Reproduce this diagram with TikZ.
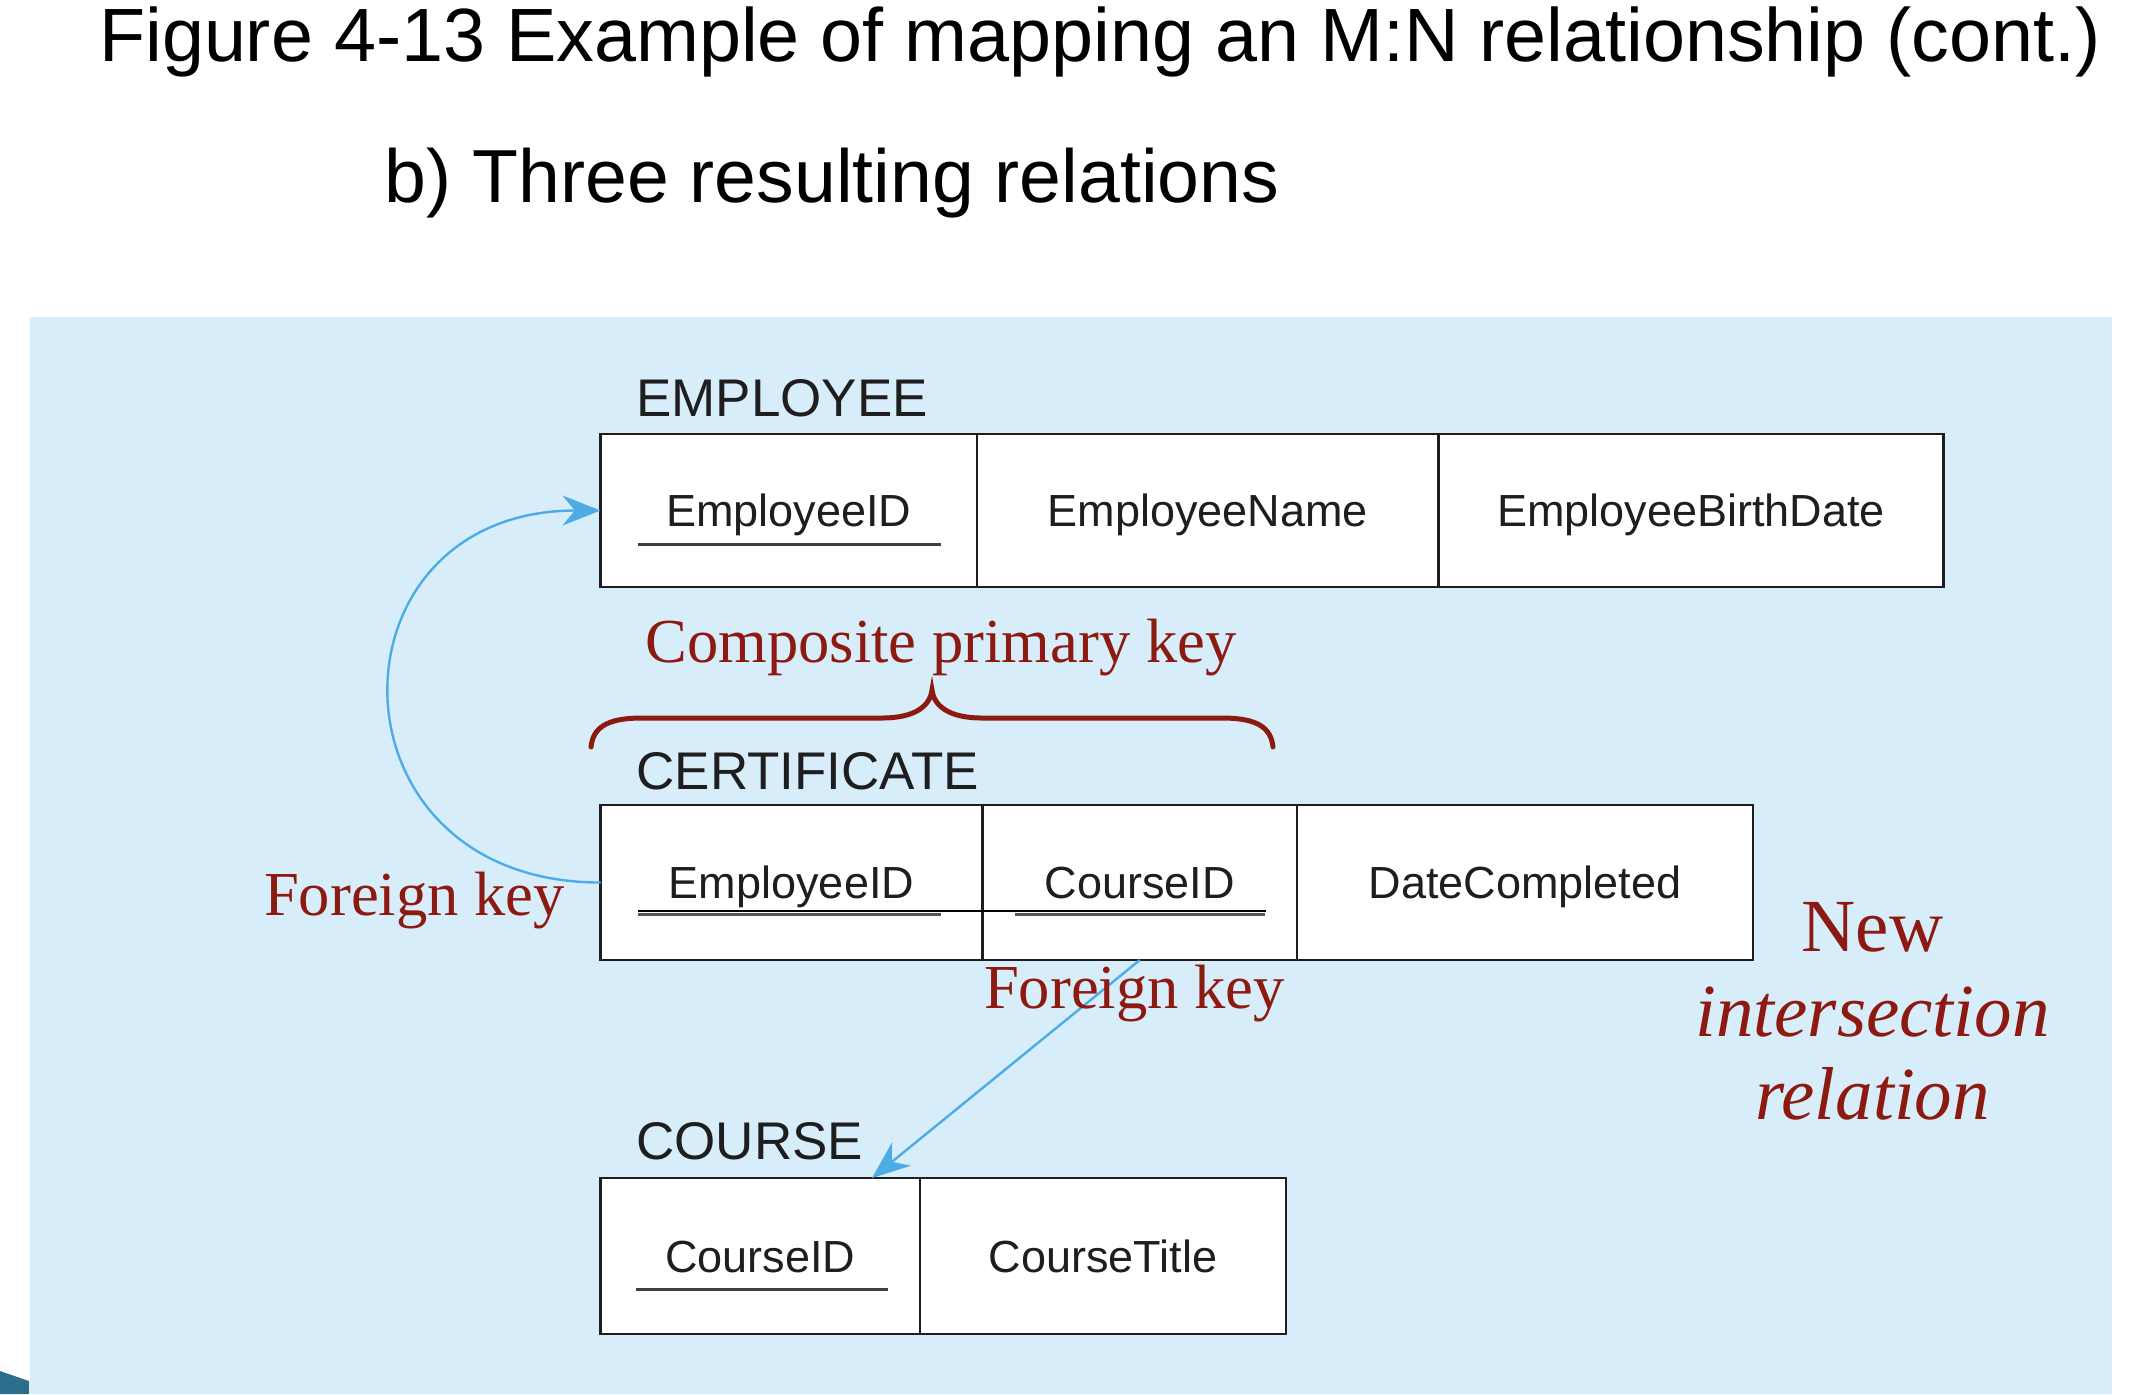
\documentclass[tikz,border=0pt]{standalone}
\usepackage{fontspec}
\setmainfont{Liberation Serif}
\setsansfont{Liberation Sans}
\usetikzlibrary{arrows.meta}
\definecolor{panel}{RGB}{216,237,250}
\definecolor{kred}{RGB}{140,26,16}
\definecolor{fkblue}{RGB}{77,172,230}
\definecolor{ink}{RGB}{30,30,30}
\definecolor{slideteal}{RGB}{45,110,140}
\begin{document}
\begin{tikzpicture}[x=0.5pt,y=-0.5pt,
  cell/.style={draw=ink, line width=1.1pt, fill=white, inner sep=0pt, outer sep=0pt,
    text=ink, font=\sffamily\fontsize{22.5}{27}\selectfont, text height=16.1pt, text depth=0pt},
  lbl/.style={anchor=base west, inner sep=0pt, text=ink, font=\sffamily\fontsize{26.5}{32}\selectfont},
  redtxt/.style={anchor=base, inner sep=0pt, text=kred, font=\rmfamily\fontsize{31.3}{37}\selectfont},
  bigred/.style={anchor=base, inner sep=0pt, text=kred, font=\rmfamily\fontsize{37.5}{42}\selectfont},
  fk/.style={draw=fkblue, line width=1.2pt, -{Stealth[length=19pt,width=15pt]}},
  keyline/.style={draw=ink!85, line width=1.5pt},
]
\useasboundingbox (0,0) rectangle (2140,1394);
\fill[white] (0,0) rectangle (2140,1394);
\fill[panel] (30,317) rectangle (2112,1394);
\fill[slideteal] (0,1371) -- (29,1381) -- (29,1394) -- (0,1394) -- cycle;

% titles
\node[anchor=base, inner sep=0pt, font=\sffamily\fontsize{37.75}{45}\selectfont] (title) at (1100,61)
  {Figure 4-13 Example of mapping an M:N relationship (cont.)};
\node[anchor=base, inner sep=0pt, font=\sffamily\fontsize{37.6}{45}\selectfont] (sub) at (832,202)
  {b) Three resulting relations};

% relation names
\node[lbl] (empL) at (636,416) {EMPLOYEE};
\node[lbl] (certL) at (636,789) {CERTIFICATE};
\node[lbl] (crsL) at (636,1159) {COURSE};

% EMPLOYEE
\node[cell, minimum width=188.25pt, minimum height=76.5pt] (e1) at (788.75,510.5) {EmployeeID};
\node[cell, minimum width=230.75pt, minimum height=76.5pt] (e2) at (1207.75,510.5) {EmployeeName};
\node[cell, minimum width=252.5pt, minimum height=76.5pt] (e3) at (1691,510.5) {EmployeeBirthDate};
% CERTIFICATE
\node[cell, minimum width=191pt, minimum height=77.5pt] (c1) at (791.5,882.5) {EmployeeID};
\node[cell, minimum width=157.25pt, minimum height=77.5pt] (c2) at (1139.75,882.5) {CourseID};
\node[cell, minimum width=228pt, minimum height=77.5pt] (c3) at (1525,882.5) {DateCompleted};
% COURSE
\node[cell, minimum width=159.75pt, minimum height=78pt] (r1) at (760.25,1256) {CourseID};
\node[cell, minimum width=183pt, minimum height=78pt] (r2) at (1103,1256) {CourseTitle};

% key underlines
\draw[keyline] (638,544) -- (941,544);
\draw[keyline, draw=ink!75] (638,914.5) -- (941,914.5);
\draw[keyline, draw=ink!75] (1015,914.5) -- (1265,914.5);
\draw[black, line width=1pt] (638,910.5) -- (1266,910.5);
\draw[keyline] (636,1289) -- (888,1289);

% brace
\draw[kred, line width=2.5pt, line cap=round]
  (591,747) .. controls (593,728) and (606,718) .. (642,718)
  -- (882,718) .. controls (915,718) and (930,706) .. (932,690)
  .. controls (934,706) and (949,718) .. (982,718)
  -- (1222,718) .. controls (1258,718) and (1271,728) .. (1273,747);

% foreign key arrows
\draw[fk] (c1.west) .. controls +(-280,0) and +(-280,0) .. (e1.west);
\draw[fk] (c2.south) -- ([xshift=-24pt]r1.north east);

% red annotations
\node[redtxt] (cpk) at (941,662) {Composite primary key};
\node[redtxt] (fk1) at (414.5,915) {Foreign key};
\node[redtxt] (fk2) at (1134.5,1008) {Foreign key};
\node[bigred] (nir1) at (1872.5,951) {New};
\node[bigred] (nir2) at (1872.5,1036) {\itshape intersection};
\node[bigred] (nir3) at (1872.5,1119) {\itshape relation};
\end{tikzpicture}
\end{document}
